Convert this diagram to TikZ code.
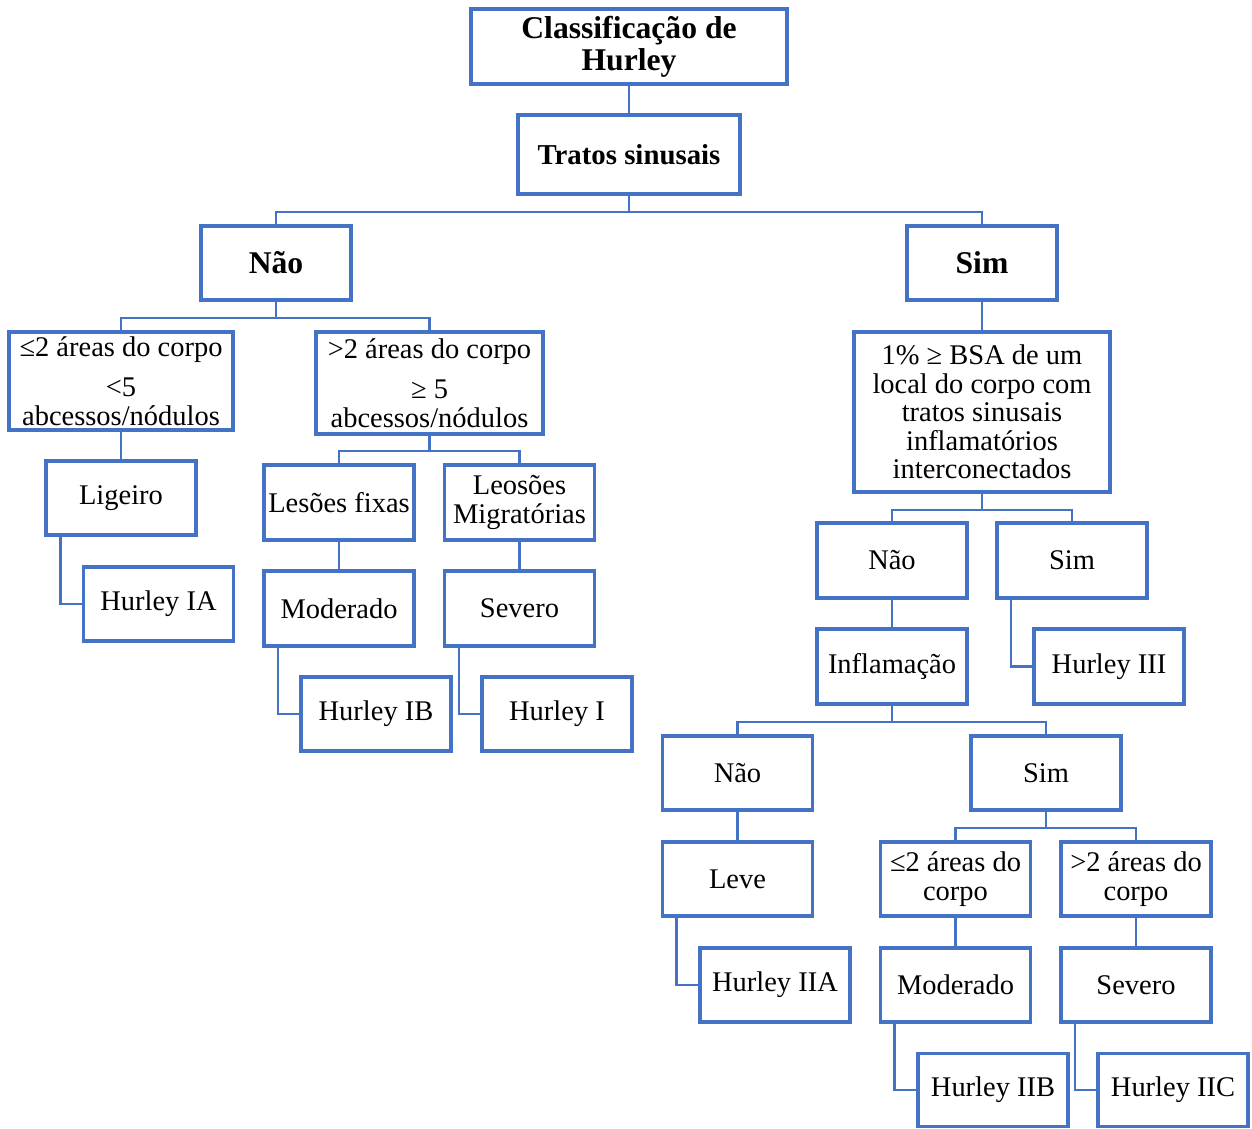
\documentclass[tikz,border=0pt]{standalone}
\usepackage{fontspec}
\setmainfont{Liberation Serif}
\usepackage{tikz}
\usetikzlibrary{calc,positioning}
\definecolor{hblue}{HTML}{4472C4}

\begin{document}
\begin{tikzpicture}[
    x=0.2mm, y=-0.2mm,
    box/.style={draw=hblue, line width=2.2pt, fill=white, align=center, inner sep=1pt,
        minimum width=30mm, minimum height=15mm, font=\fontsize{16.2}{16.2}\selectfont},
    hdr/.style={box, font=\fontsize{18}{18}\selectfont\bfseries},
    link/.style={draw=hblue, line width=1.6pt}]
\useasboundingbox (0,0) rectangle (1252,1128);

% top
\node[hdr, minimum width=63.2mm] (title) at (629,46.5) {Classificação de\\Hurley};
\node[box, minimum width=44.4mm, minimum height=15.8mm,
      font=\fontsize{16.4}{16.4}\selectfont\bfseries] (tratos) at (629,154.5) {Tratos sinusais};
\node[hdr, minimum height=14.8mm] (nao) at (276,263) {Não};
\node[hdr, minimum height=14.8mm] (sim) at (982,263) {Sim};

% ramo Nao
\node[box, minimum width=44.8mm, minimum height=19.6mm] (leA) at (121,381)
    {≤2 áreas do corpo\\[7pt]<5\\abcessos/nódulos};
\node[box, minimum width=45.4mm, minimum height=20.4mm] (gtA) at (429.5,383)
    {>2 áreas do corpo\\[7pt]≥ 5\\abcessos/nódulos};
\node[box, minimum height=14.8mm] (ligeiro) at (121,498) {Ligeiro};
\node[box, minimum height=14.8mm] (hIA) at (158.5,604) {Hurley IA};
\node[box] (fixas) at (339,502.5) {Lesões fixas};
\node[box] (migr) at (519.5,502.5) {Leosões\\Migratórias};
\node[box] (modA) at (339,608.5) {Moderado};
\node[box] (sevA) at (519.5,608.5) {Severo};
\node[box, minimum height=14.8mm] (hIB) at (376,714) {Hurley IB};
\node[box, minimum height=14.8mm] (hI) at (557,714) {Hurley I};

% ramo Sim
\node[box, minimum width=51.2mm, minimum height=32mm] (bsa) at (982,412)
    {1\% ≥ BSA de um\\local do corpo com\\tratos sinusais\\inflamatórios\\interconectados};
\node[box] (naoB) at (892,560.5) {Não};
\node[box] (simB) at (1072,560.5) {Sim};
\node[box] (infl) at (892,666.5) {Inflamação};
\node[box] (hIII) at (1109,666.5) {Hurley III};
\node[box, minimum height=14.8mm] (naoC) at (737.5,773) {Não};
\node[box, minimum height=14.8mm] (simC) at (1046,773) {Sim};
\node[box, minimum height=14.8mm] (leve) at (737.5,879) {Leve};
\node[box, minimum height=14.8mm] (hIIA) at (775,985) {Hurley IIA};
\node[box, minimum height=14.8mm] (leB) at (955.5,879) {≤2 áreas do\\corpo};
\node[box, minimum height=14.8mm] (gtB) at (1136,879) {>2 áreas do\\corpo};
\node[box, minimum height=14.8mm] (modB) at (955.5,985) {Moderado};
\node[box, minimum height=14.8mm] (sevB) at (1136,985) {Severo};
\node[box, minimum height=14.6mm] (hIIB) at (993,1090) {Hurley IIB};
\node[box, minimum height=14.6mm] (hIIC) at (1173,1090) {Hurley IIC};

% ligacoes
\draw[link] (title.south) -- (tratos.north);
\draw[link] (tratos.south) -- ++(0,16) coordinate (f1) -| (nao.north);
\draw[link] (f1) -| (sim.north);
\draw[link] (nao.south) -- ++(0,16) coordinate (f2) -| (leA.north);
\draw[link] (f2) -| (gtA.north);
\draw[link] (leA.south) -- (ligeiro.north);
\draw[link] ([xshift=3.3mm]ligeiro.south west) |- (hIA.west);
\draw[link] (gtA.south) -- ++(0,15) coordinate (f3) -| (fixas.north);
\draw[link] (f3) -| (migr.north);
\draw[link] (fixas.south) -- (modA.north);
\draw[link] (migr.south) -- (sevA.north);
\draw[link] ([xshift=3.2mm]modA.south west) |- (hIB.west);
\draw[link] ([xshift=3.3mm]sevA.south west) |- (hI.west);

\draw[link] (sim.south) -- (bsa.north);
\draw[link] (bsa.south) -- ++(0,16) coordinate (f4) -| (naoB.north);
\draw[link] (f4) -| (simB.north);
\draw[link] (naoB.south) -- (infl.north);
\draw[link] ([xshift=3.2mm]simB.south west) |- (hIII.west);
\draw[link] (infl.south) -- ++(0,16) coordinate (f5) -| (naoC.north);
\draw[link] (f5) -| (simC.north);
\draw[link] (naoC.south) -- (leve.north);
\draw[link] ([xshift=3.2mm]leve.south west) |- (hIIA.west);
\draw[link] (simC.south) -- ++(0,16) coordinate (f6) -| (leB.north);
\draw[link] (f6) -| (gtB.north);
\draw[link] (leB.south) -- (modB.north);
\draw[link] (gtB.south) -- (sevB.north);
\draw[link] ([xshift=3.2mm]modB.south west) |- (hIIB.west);
\draw[link] ([xshift=3.2mm]sevB.south west) |- (hIIC.west);

\end{tikzpicture}
\end{document}
